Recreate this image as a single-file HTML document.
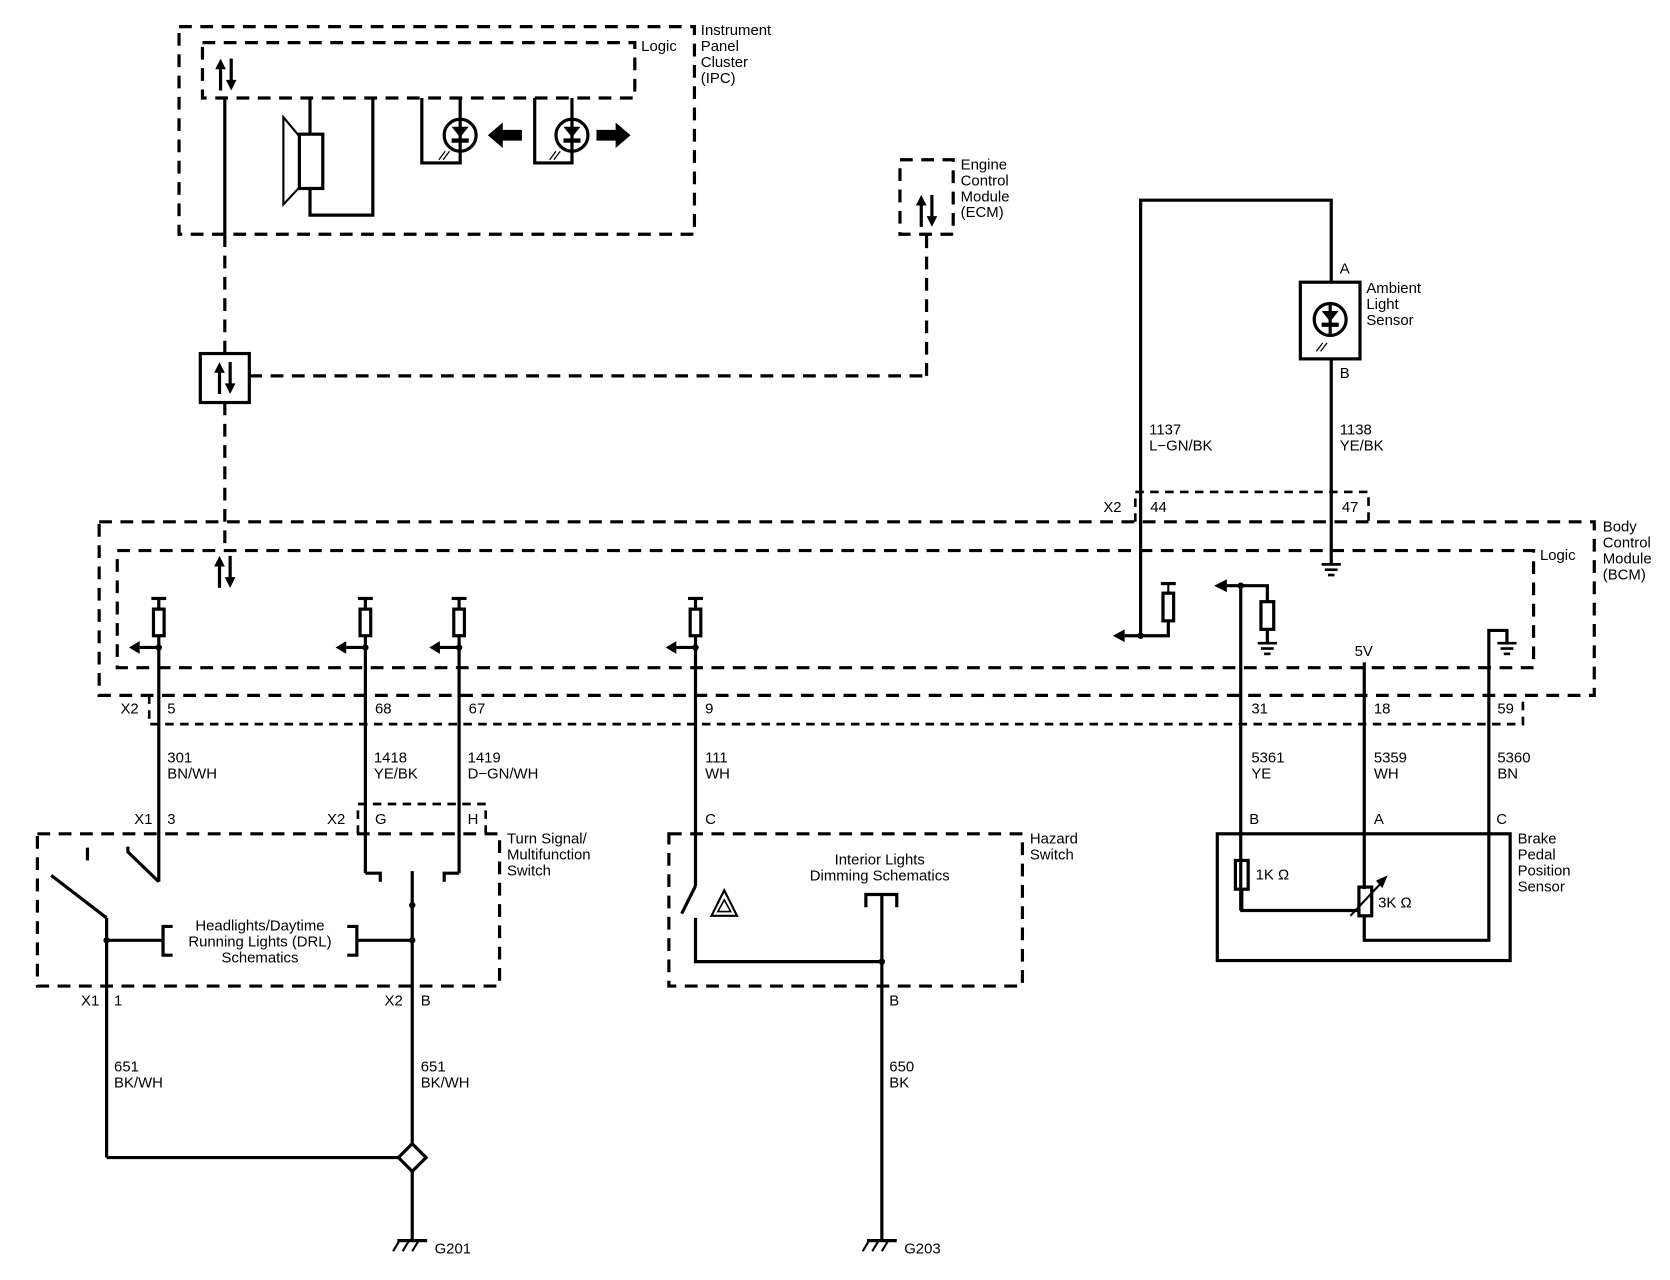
<!DOCTYPE html>
<html><head><style>
html,body{margin:0;padding:0;background:#fff}
svg{display:block}
text{font-family:"Liberation Sans",Arial,sans-serif;font-size:14px;fill:#000}
</style></head><body>
<svg width="1670" height="1280" viewBox="0 0 1568 1202" xmlns="http://www.w3.org/2000/svg">
<defs>
<g id="pu">
<line x1="-7" y1="0" x2="7" y2="0" stroke="#000" stroke-width="3"/>
<line x1="0" y1="0" x2="0" y2="10" stroke="#000" stroke-width="2"/>
<rect x="-5" y="10" width="10" height="25" fill="#fff" stroke="#000" stroke-width="3"/>
<line x1="0" y1="35" x2="0" y2="46" stroke="#000" stroke-width="2"/>
<circle cx="0" cy="46" r="3" fill="#000"/>
<line x1="0" y1="46" x2="-18" y2="46" stroke="#000" stroke-width="3"/>
<path d="M-18,40 L-28,46 L-18,52 z" fill="#000"/>
</g>
<g id="gnd">
<line x1="-9" y1="0" x2="9" y2="0" stroke="#000" stroke-width="2.5"/>
<line x1="-6" y1="5" x2="6" y2="5" stroke="#000" stroke-width="2.5"/>
<line x1="-3" y1="10" x2="3" y2="10" stroke="#000" stroke-width="2.5"/>
</g>
<g id="cg">
<line x1="-14" y1="0" x2="14" y2="0" stroke="#000" stroke-width="3"/>
<line x1="-12" y1="0" x2="-18" y2="10" stroke="#000" stroke-width="2"/>
<line x1="-3" y1="0" x2="-9" y2="10" stroke="#000" stroke-width="2"/>
<line x1="6" y1="0" x2="0" y2="10" stroke="#000" stroke-width="2"/>
</g>
<g id="bid">
<line x1="-5" y1="4" x2="-5" y2="30" stroke="#000" stroke-width="3"/>
<path d="M-10,10 L-5,0 L0,10z" fill="#000"/>
<line x1="5" y1="0" x2="5" y2="26" stroke="#000" stroke-width="3"/>
<path d="M0,20 L5,30 L10,20z" fill="#000"/>
</g>
<g id="lamp">
<circle cx="0" cy="0" r="15" fill="none" stroke="#000" stroke-width="3"/>
<line x1="0" y1="-15" x2="0" y2="15" stroke="#000" stroke-width="3"/>
<path d="M-8,-8 L8,-8 L0,2z M-8,3 L8,3 L8,7 L-8,7z" fill="#000"/>
</g>
</defs>
<g fill="none" stroke="#000" stroke-width="3">
<g stroke-dasharray="12,8">
<rect x="168" y="25" width="484" height="195"/>
<rect x="190" y="40" width="406" height="52"/>
<line x1="211" y1="220" x2="211" y2="332"/>
<line x1="234" y1="353" x2="870" y2="353"/>
<line x1="870" y1="353" x2="870" y2="220"/>
<rect x="845" y="150" width="50" height="70"/>
<line x1="211" y1="378" x2="211" y2="512"/>
<rect x="93" y="490" width="1404" height="163"/>
<rect x="110" y="517" width="1330" height="110"/>
<rect x="35" y="783" width="434" height="143"/>
<rect x="628" y="783" width="332" height="143"/>
</g>
<g stroke-dasharray="8,6" stroke-width="2.5">
<polyline points="140,653 140,680 1430,680 1430,653"/>
<polyline points="1066,490 1066,462 1285,462 1285,490"/>
<polyline points="336,783 336,755 456,755 456,783"/>
</g>
<line x1="211" y1="92" x2="211" y2="220"/>
<rect x="188" y="332" width="46" height="46"/>
<polyline points="291,92 291,126"/>
<rect x="281" y="126" width="22" height="51"/>
<polyline points="281,128 266,110 266,192 281,176" stroke-width="2"/>
<polyline points="291,177 291,202 350,202 350,92"/>
<polyline points="432,92 432,112"/><polyline points="396,92 396,153 432,153 432,142"/>
<polyline points="537,92 537,112"/><polyline points="502,92 502,153 537,153 537,142"/>
<line x1="149" y1="562" x2="149" y2="828"/>
<path d="M149,828 L120,800 L120,795"/>
<line x1="82" y1="796" x2="82" y2="808"/>
<line x1="48" y1="822" x2="100" y2="862"/>
<line x1="100" y1="862" x2="100" y2="1087"/>
<line x1="100" y1="1087" x2="374" y2="1087"/>
<line x1="343" y1="562" x2="343" y2="820"/><polyline points="343,820 357,820 357,828"/>
<line x1="431" y1="562" x2="431" y2="820"/><polyline points="431,820 417,820 417,828"/>
<line x1="387" y1="818" x2="387" y2="1074"/>
<line x1="387" y1="1100" x2="387" y2="1165"/>
<line x1="100" y1="883" x2="152" y2="883"/><line x1="336" y1="883" x2="387" y2="883"/>
<polyline points="162,870 153,870 153,897 162,897"/>
<polyline points="326,870 335,870 335,897 326,897"/>
<line x1="653" y1="562" x2="653" y2="832"/>
<line x1="653" y1="832" x2="640" y2="858"/>
<polyline points="653,862 653,903 828,903"/>
<polyline points="813,852 813,840 842,840 842,852"/>
<line x1="828" y1="840" x2="828" y2="1165"/>
<path d="M680,836 L668,860 L692,860 z" stroke-width="2"/>
<path d="M680,845 L674,856 L686,856 z" stroke-width="1.5"/>
<polyline points="1071,597 1071,188 1250,188 1250,265"/>
<line x1="1071" y1="597" x2="1056" y2="597"/>
<rect x="1221" y="265" width="56" height="72"/>
<line x1="1250" y1="337" x2="1250" y2="530"/>
<polyline points="1097,583 1097,597 1071,597"/>
<line x1="1165" y1="550" x2="1165" y2="855"/>
<polyline points="1152,550 1190,550 1190,565"/>
<rect x="1184" y="565" width="12" height="26"/>
<line x1="1190" y1="591" x2="1190" y2="603"/>
<line x1="1281" y1="622" x2="1281" y2="835"/>
<polyline points="1281,860 1281,883 1398,883 1398,592 1415,592 1415,603"/>
<rect x="1143" y="783" width="275" height="119"/>
<rect x="1160" y="808" width="12" height="27"/>
<polyline points="1166,835 1166,855 1276,855"/>
<rect x="1276" y="833" width="12" height="27"/>
<line x1="1268" y1="860" x2="1298" y2="828" stroke-width="2"/>
</g>
<path d="M1303,822 L1292,827 L1298,834 z" fill="#000"/>
<use href="#lamp" x="432" y="127"/>
<use href="#lamp" x="537" y="127"/>
<use href="#lamp" x="1249" y="300"/>
<path d="M490,122 L472,122 L472,115 L458,127 L472,139 L472,132 L490,132z" fill="#000"/>
<path d="M560,122 L578,122 L578,115 L592,127 L578,139 L578,132 L560,132z" fill="#000"/>
<g stroke="#000" stroke-width="1.2"><path d="M412,150 L418,142 M416,150 L422,142 M516,150 L522,142 M520,150 L526,142 M1236,330 L1242,322 M1240,330 L1246,322"/></g>
<use href="#bid" x="212" y="55"/>
<use href="#bid" x="211" y="340"/>
<use href="#bid" x="870" y="183"/>
<use href="#bid" x="211" y="522"/>
<use href="#pu" x="149" y="562"/>
<use href="#pu" x="343" y="562"/>
<use href="#pu" x="431" y="562"/>
<use href="#pu" x="653" y="562"/>
<g transform="translate(1097,548)"><line x1="-7" y1="0" x2="7" y2="0" stroke="#000" stroke-width="3"/><line x1="0" y1="0" x2="0" y2="9" stroke="#000" stroke-width="2"/><rect x="-5" y="9" width="10" height="26" fill="#fff" stroke="#000" stroke-width="3"/></g>
<circle cx="1071" cy="597" r="3"/>
<path d="M1056,591 L1045,597 L1056,603z"/>
<circle cx="1165" cy="550" r="3"/>
<path d="M1152,544 L1140,550 L1152,556z"/>
<use href="#gnd" x="1250" y="530"/>
<use href="#gnd" x="1190" y="604"/>
<use href="#gnd" x="1415" y="604"/>
<circle cx="100" cy="883" r="3"/><circle cx="387" cy="850" r="3"/><circle cx="387" cy="883" r="3"/><circle cx="828" cy="903" r="3"/>
<path d="M387,1074 L400,1087 L387,1100 L374,1087z" fill="#fff" stroke="#000" stroke-width="3"/>
<use href="#cg" x="387" y="1165"/>
<use href="#cg" x="828" y="1165"/>
<text x="602" y="48">Logic</text>
<text x="658" y="33">Instrument</text><text x="658" y="48">Panel</text><text x="658" y="63">Cluster</text><text x="658" y="78">(IPC)</text>
<text x="902" y="159">Engine</text><text x="902" y="174">Control</text><text x="902" y="189">Module</text><text x="902" y="204">(ECM)</text>
<text x="1258" y="257">A</text><text x="1258" y="355">B</text>
<text x="1283" y="275">Ambient</text><text x="1283" y="290">Light</text><text x="1283" y="305">Sensor</text>
<text x="1079" y="408">1137</text><text x="1079" y="423">L−GN/BK</text>
<text x="1258" y="408">1138</text><text x="1258" y="423">YE/BK</text>
<text x="1036" y="481">X2</text><text x="1080" y="481">44</text><text x="1260" y="481">47</text>
<text x="1446" y="526">Logic</text>
<text x="1505" y="499">Body</text><text x="1505" y="514">Control</text><text x="1505" y="529">Module</text><text x="1505" y="544">(BCM)</text>
<text x="1272" y="616">5V</text>
<text x="113" y="670">X2</text><text x="157" y="670">5</text><text x="352" y="670">68</text><text x="440" y="670">67</text><text x="662" y="670">9</text><text x="1175" y="670">31</text><text x="1290" y="670">18</text><text x="1406" y="670">59</text>
<text x="157" y="716">301</text><text x="157" y="731">BN/WH</text>
<text x="351" y="716">1418</text><text x="351" y="731">YE/BK</text>
<text x="439" y="716">1419</text><text x="439" y="731">D−GN/WH</text>
<text x="662" y="716">111</text><text x="662" y="731">WH</text>
<text x="1175" y="716">5361</text><text x="1175" y="731">YE</text>
<text x="1290" y="716">5359</text><text x="1290" y="731">WH</text>
<text x="1406" y="716">5360</text><text x="1406" y="731">BN</text>
<text x="126" y="774">X1</text><text x="157" y="774">3</text>
<text x="307" y="774">X2</text><text x="352" y="774">G</text><text x="439" y="774">H</text>
<text x="662" y="774">C</text>
<text x="1173" y="774">B</text><text x="1290" y="774">A</text><text x="1405" y="774">C</text>
<text x="476" y="792">Turn Signal/</text><text x="476" y="807">Multifunction</text><text x="476" y="822">Switch</text>
<text x="967" y="792">Hazard</text><text x="967" y="807">Switch</text>
<text x="1425" y="792">Brake</text><text x="1425" y="807">Pedal</text><text x="1425" y="822">Position</text><text x="1425" y="837">Sensor</text>
<text x="826" y="812" text-anchor="middle">Interior Lights</text><text x="826" y="827" text-anchor="middle">Dimming Schematics</text>
<text x="244" y="874" text-anchor="middle">Headlights/Daytime</text><text x="244" y="889" text-anchor="middle">Running Lights (DRL)</text><text x="244" y="904" text-anchor="middle">Schematics</text>
<text x="1179" y="826">1K Ω</text><text x="1294" y="852">3K Ω</text>
<text x="76" y="944">X1</text><text x="107" y="944">1</text><text x="361" y="944">X2</text><text x="395" y="944">B</text><text x="835" y="944">B</text>
<text x="107" y="1006">651</text><text x="107" y="1021">BK/WH</text>
<text x="395" y="1006">651</text><text x="395" y="1021">BK/WH</text>
<text x="835" y="1006">650</text><text x="835" y="1021">BK</text>
<text x="408" y="1177">G201</text><text x="849" y="1177">G203</text>
</svg>
</body></html>
